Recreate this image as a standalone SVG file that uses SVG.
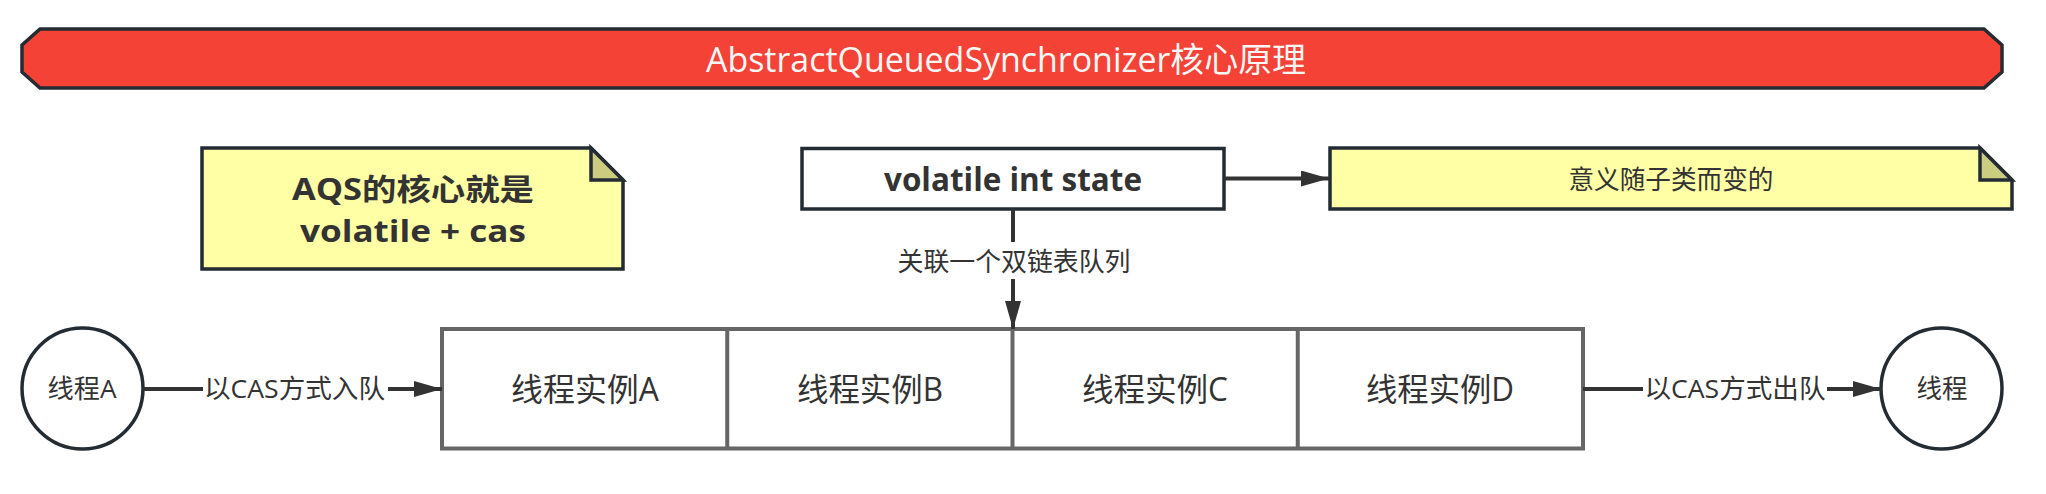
<svg xmlns="http://www.w3.org/2000/svg" width="2046" height="494" viewBox="0 0 2046 494">
  <style>
    .txt { font-family: "Open Sans", "Noto Sans CJK SC", sans-serif; fill: #333333; }
    .bold { font-weight: 700; }
    .node { stroke: #232b33; stroke-width: 3.5; stroke-linejoin: miter; }
    .note { fill: #ffffa6; }
    .fold { fill: #cccc80; }
    .cell { fill: #ffffff; stroke: #666666; stroke-width: 4; }
    .conn { fill: none; stroke: #333333; stroke-width: 4; }
  </style>
  <defs>
    <marker id="arrow" markerUnits="userSpaceOnUse" markerWidth="30" markerHeight="18" refX="28" refY="8" orient="auto">
      <path d="M0,0 L28,8 L0,16 Z" fill="#333333"/>
    </marker>
  </defs>
  <rect width="2046" height="494" fill="#ffffff"/>

  <g id="title">
    <polygon class="node" fill="#f44336" points="40,29 1984,29 2002,45 2002,72 1984,88 40,88 22,72 22,45"/>
    <text class="txt" x="1006" y="72" font-size="34" text-anchor="middle" style="fill:#f7f7f7" textLength="600" lengthAdjust="spacingAndGlyphs">AbstractQueuedSynchronizer核心原理</text>
  </g>

  <g id="note-aqs">
    <polygon class="node note" points="202,148 591,148 623,180 623,269 202,269"/>
    <polygon class="node fold" points="591,148 623,180 591,180"/>
    <text class="txt bold" x="413" y="200" font-size="30" text-anchor="middle" textLength="242" lengthAdjust="spacingAndGlyphs">AQS的核心就是</text>
    <text class="txt bold" x="413" y="242" font-size="30" text-anchor="middle" textLength="226" lengthAdjust="spacingAndGlyphs">volatile + cas</text>
  </g>

  <g id="state">
    <rect class="node" fill="#ffffff" x="802" y="148.5" width="422" height="60.5"/>
    <text class="txt bold" x="1013" y="191" font-size="32" text-anchor="middle" textLength="258" lengthAdjust="spacingAndGlyphs">volatile int state</text>
  </g>

  <g id="note-meaning">
    <polygon class="node note" points="1330,148 1980,148 2012,180 2012,209 1330,209"/>
    <polygon class="node fold" points="1980,148 2012,180 1980,180"/>
    <text class="txt" x="1671" y="189" font-size="26" text-anchor="middle" textLength="205" lengthAdjust="spacingAndGlyphs">意义随子类而变的</text>
  </g>

  <g id="thread-a">
    <ellipse class="node" fill="#ffffff" cx="82.5" cy="388.5" rx="60.5" ry="60.5"/>
    <text class="txt" x="82" y="398" font-size="26" text-anchor="middle" textLength="69" lengthAdjust="spacingAndGlyphs">线程A</text>
  </g>

  <g id="queue">
    <rect class="cell" x="442" y="329" width="1141" height="119.5"/>
    <line class="cell" x1="727.25" y1="329" x2="727.25" y2="448.5"/>
    <line class="cell" x1="1012.5" y1="329" x2="1012.5" y2="448.5"/>
    <line class="cell" x1="1297.75" y1="329" x2="1297.75" y2="448.5"/>
  </g>
  <g id="cell-a">
    <text class="txt" x="585" y="401" font-size="32" text-anchor="middle" textLength="148" lengthAdjust="spacingAndGlyphs">线程实例A</text>
  </g>
  <g id="cell-b">
    <text class="txt" x="870" y="401" font-size="32" text-anchor="middle" textLength="146" lengthAdjust="spacingAndGlyphs">线程实例B</text>
  </g>
  <g id="cell-c">
    <text class="txt" x="1155" y="401" font-size="32" text-anchor="middle" textLength="146" lengthAdjust="spacingAndGlyphs">线程实例C</text>
  </g>
  <g id="cell-d">
    <text class="txt" x="1440" y="401" font-size="32" text-anchor="middle" textLength="148" lengthAdjust="spacingAndGlyphs">线程实例D</text>
  </g>

  <g id="thread">
    <ellipse class="node" fill="#ffffff" cx="1941.5" cy="388.5" rx="60.5" ry="60.5"/>
    <text class="txt" x="1942" y="398" font-size="26" text-anchor="middle" textLength="51" lengthAdjust="spacingAndGlyphs">线程</text>
  </g>

  <g id="connectors">
    <path class="conn" d="M1224,178.5 H1329" marker-end="url(#arrow)"/>
    <path class="conn" d="M1013,209 V242 M1013,279 V329" marker-end="url(#arrow)"/>
    <text class="txt" x="1014" y="271" font-size="26" text-anchor="middle" textLength="233" lengthAdjust="spacingAndGlyphs">关联一个双链表队列</text>
    <path class="conn" d="M143,389 H203 M388,389 H442" marker-end="url(#arrow)"/>
    <text class="txt" x="294.5" y="398" font-size="26" text-anchor="middle" textLength="181" lengthAdjust="spacingAndGlyphs">以CAS方式入队</text>
    <path class="conn" d="M1583,389 H1643 M1827,389 H1881" marker-end="url(#arrow)"/>
    <text class="txt" x="1735" y="398" font-size="26" text-anchor="middle" textLength="181" lengthAdjust="spacingAndGlyphs">以CAS方式出队</text>
  </g>
</svg>
